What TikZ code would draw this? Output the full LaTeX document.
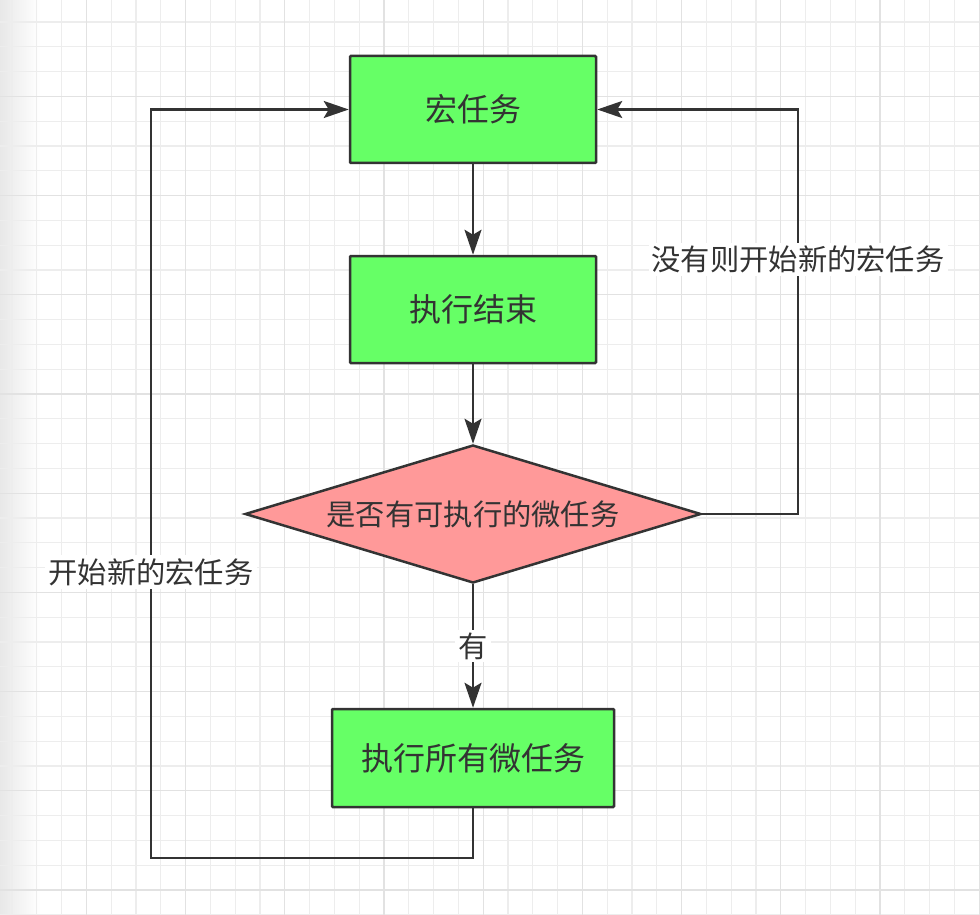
\documentclass[tikz,border=0pt]{standalone}
\usepackage{fontspec}
\setmainfont{Noto Sans CJK SC}
\usetikzlibrary{shapes.geometric,arrows.meta}
\definecolor{boxgreen}{HTML}{66FF66}
\definecolor{diared}{HTML}{FF9999}
\definecolor{ink}{HTML}{333333}
\definecolor{gridminor}{HTML}{EDEDED}
\definecolor{gridmajor}{HTML}{E2E2E2}
\tikzset{
  procbox/.style={draw=ink, line width=2.5pt, fill=boxgreen, rectangle, rounded corners=1pt,
    inner sep=0pt, text=ink, font=\fontsize{32}{37}\selectfont},
  decision/.style={draw=ink, line width=2.5pt, fill=diared, diamond, aspect=3.3, inner sep=0pt,
    minimum width=456pt, minimum height=138pt, text=ink, font=\fontsize{29.3}{34}\selectfont},
  arr/.style={draw=ink, line width=2.5pt, -{Stealth[length=25pt,width=17pt,inset=5pt]}},
  conn/.style={draw=ink, line width=2.5pt},
  lbl/.style={fill=white, inner sep=3pt, text=ink, font=\fontsize{29.3}{34}\selectfont},
  gminor/.style={draw=gridminor, line width=1.2pt},
  gmajor/.style={draw=gridmajor, line width=1.3pt}
}
\begin{document}
\begin{tikzpicture}[x=1pt,y=-1pt]
\useasboundingbox (0,0) rectangle (980,915);
\fill[white] (0,0) rectangle (980,915);
\shade[left color=black!9, right color=white] (0,0) rectangle (40,915);
\foreach \k in {0,...,39} \draw[gminor] ({12+24.8*\k},0) -- ({12+24.8*\k},915);
\foreach \k in {0,...,36} \draw[gminor] (0,{22+24.8*\k}) -- (980,{22+24.8*\k});
\foreach \k in {3,7,...,39} \draw[gmajor] ({12+24.8*\k},0) -- ({12+24.8*\k},915);
\foreach \k in {3,7,...,35} \draw[gmajor] (0,{22+24.8*\k}) -- (980,{22+24.8*\k});

\node[procbox, minimum width=246pt, minimum height=107pt] (m1) at (473,109.5) {宏任务};
\node[procbox, minimum width=246pt, minimum height=107pt] (m2) at (473,309.5) {执行结束};
\node[decision] (d) at (473,514) {是否有可执行的微任务};
\node[procbox, minimum width=282pt, minimum height=98pt] (m3) at (473,758) {执行所有微任务};

\coordinate (r1) at (798,514);
\coordinate (r2) at (798,109.5);
\coordinate (l1) at (473,858);
\coordinate (l2) at (151,858);
\coordinate (l3) at (151,109.5);

\draw[arr] (m1) -- (m2);
\draw[arr] (m2) -- (d);
\draw[arr] (d) -- node[lbl] {有} (m3);
\draw[arr] (d.east) -- (r1) -- node[lbl, pos=0.63] {没有则开始新的宏任务} (r2) -- (m1.east);
\draw[arr] (m3.south) -- (l1) -- (l2) -- node[lbl, pos=0.382] {开始新的宏任务} (l3) -- (m1.west);
\end{tikzpicture}
\end{document}
